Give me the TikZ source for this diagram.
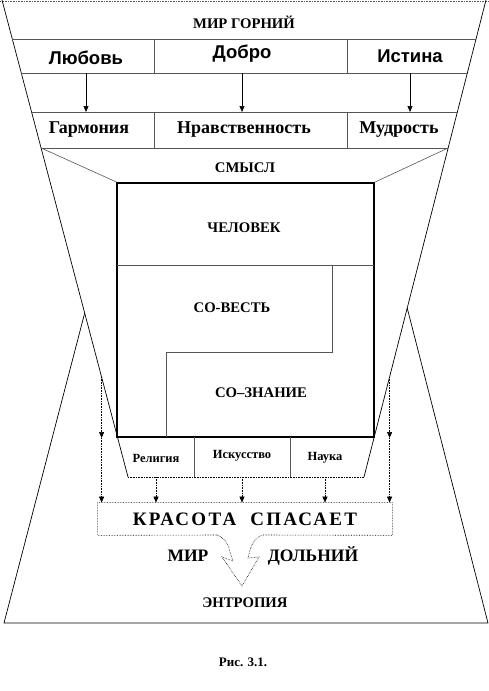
\documentclass[tikz,border=0pt]{standalone}
\usepackage{fontspec}
\setmainfont{Liberation Serif}
\newfontfamily\arialfont{Liberation Sans}
\newfontfamily\spacedfont[LetterSpace=12]{Liberation Serif}
\usetikzlibrary{arrows.meta, calc}
\definecolor{lngrey}{HTML}{555555}

\begin{document}
\begin{tikzpicture}[x=1pt, y=-1pt, line width=.7pt,
          ttl/.style={font=\fontsize{14.7}{16}\selectfont\bfseries, inner sep=0pt},
          cell/.style={font=\fontsize{18}{20}\selectfont\bfseries, inner sep=0pt},
          sanscell/.style={font=\arialfont\fontsize{18.5}{20}\selectfont\bfseries, inner sep=0pt},
          small/.style={font=\fontsize{12.5}{14}\selectfont\bfseries, inner sep=0pt},
          mid/.style={font=\fontsize{17.5}{18}\selectfont\bfseries, inner sep=0pt},
          thinln/.style={lngrey, line width=.6pt},
          dots/.style={densely dotted, line width=.6pt},
          arr/.style={-{Triangle[length=6pt,width=5pt]}, line width=.6pt},
          dotarr/.style={arr, densely dotted}]
  \useasboundingbox (0,0) rectangle (489,691);
  % row lines
  \coordinate (r1) at (0,39); \coordinate (r2) at (0,73);
  \coordinate (r3) at (0,112); \coordinate (r4) at (0,148);
  \coordinate (bt) at (0,477);
  % funnel
  \draw[dots, lngrey] (0,1) -- (489,1);
  \draw (2,0) -- (128,477);
  \draw (486,0) -- (364,477);
  \draw[thinln] (12.3,39) -- (476,39);
  \draw[thinln] (21.3,73) -- (467.3,73);
  \draw[thinln] (31.6,112) -- (457.4,112);
  \draw[thinln] (41.1,148) -- (448.1,148);
  \draw[thinln] (154,39) -- (154,73); \draw[thinln] (347,39) -- (347,73);
  \draw[thinln] (154,112) -- (154,148); \draw[thinln] (347,112) -- (347,148);
  \node[ttl] (gorny) at (244,22) {МИР ГОРНИЙ};
  \node[sanscell] (lubov) at (86,58) {Любовь};
  \node[sanscell] (dobro) at (242,54) {Добро};
  \node[sanscell] (istina) at (410,56) {Истина};
  \node[cell] (garm) at (89,130) {Гармония};
  \node[cell] (nravst) at (244,130) {Нравственность};
  \node[cell] (mudr) at (399,130) {Мудрость};
  \draw[arr] (lubov |- r2) -- (lubov |- r3);
  \draw[arr] (dobro |- r2) -- (dobro |- r3);
  \draw[arr] (istina |- r2) -- (istina |- r3);
  % man
  \node[ttl] (smysl) at (245,168) {СМЫСЛ};
  \node[draw, line width=2pt, minimum width=256.8, minimum height=254, inner sep=0pt] (sq) at (245.8,310) {};
  \draw[thinln] (41.1,148) -- (sq.north west);
  \draw[thinln] (448.1,148) -- (sq.north east);
  \draw[thinln] (117.4,265) -- (374.2,265);
  \draw[thinln] (332,265) -- (332,352) -- (166,352) -- (166,437);
  \node[ttl] (chelovek) at (244,228) {ЧЕЛОВЕК};
  \node[ttl] (sovest) at (232,308) {СО-ВЕСТЬ};
  \node[ttl] (soznanie) at (261,393) {СО–ЗНАНИЕ};
  % ways
  \draw[dots] (128,477) -- (364,477);
  \draw[thinln] (194,437) -- (194,477); \draw[thinln] (290,437) -- (290,477);
  \node[small] (relig) at (156,458) {Религия};
  \node[small] (iskus) at (242,456) {Искусство};
  \node[small] (nauka) at (325,458) {Наука};
  % beauty
  \node[inner sep=0pt, minimum width=294, minimum height=32] (krasota) at (245,519)
       {\spacedfont\fontsize{19}{20}\selectfont\bfseries КРАСОТА\ \ СПАСАЕТ};
  \draw[dots] (217,535) -- (krasota.south west) -- (krasota.north west)
       -- (krasota.north east) -- (krasota.south east) -- (262,535);
  \draw[dots] (217,535) .. controls (225,538) and (229,545) .. (230,552) -- (233,561)
       -- (222,557) -- (242,586) -- (259,557) -- (248,558) -- (250,550)
       .. controls (252,543) and (256,537) .. (262,535);
  \draw[dotarr] (relig |- bt) -- (relig |- krasota.north);
  \draw[dotarr] (iskus |- bt) -- (iskus |- krasota.north);
  \draw[dotarr] (nauka |- bt) -- (nauka |- krasota.north);
  \coordinate (fl) at (101.6,377); \coordinate (fr) at (389.6,377);
  \draw[dotarr] (fl) -- (fl |- sq.south);
  \draw[dotarr] (fl |- sq.south) -- (fl |- krasota.north);
  \draw[dotarr] (fr) -- (fr |- sq.south);
  \draw[dotarr] (fr |- sq.south) -- (fr |- krasota.north);
  \node[mid] (mir) at (188,556) {МИР};
  \node[mid] (dolny) at (313,556) {ДОЛЬНИЙ};
  \node[ttl] (entropia) at (245,603) {ЭНТРОПИЯ};
  % lower world
  \draw (84.7,313) -- (4,623) -- (488,623) -- (407.2,308);
  \node[font=\fontsize{13}{14}\selectfont\bfseries, inner sep=0pt] (caption) at (243,662) {Рис. 3.1.};
\end{tikzpicture}
\end{document}
